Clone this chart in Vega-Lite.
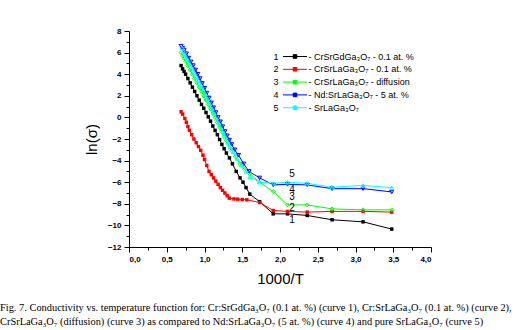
{
  "$schema": "https://vega.github.io/schema/vega-lite/v6.json",
  "width": 302,
  "height": 216,
  "autosize": {"type": "none"},
  "padding": {"left": 129, "top": 31, "right": 97, "bottom": 83},
  "background": "white",
  "config": {"view": {"stroke": null}, "font": "Liberation Sans"},
  "title": {
    "text": ["Fig. 7. Conductivity vs. temperature function for: Cr:SrGdGa₃O₇ (0.1 at. %) (curve 1), Cr:SrLaGa₃O₇ (0.1 at. %) (curve 2),", "CrSrLaGa₃O₇ (diffusion) (curve 3) as compared to Nd:SrLaGa₃O₇ (5 at. %) (curve 4) and pure SrLaGa₃O₇ (curve 5)"],
    "orient": "bottom", "anchor": "start", "frame": "group", "dx": -129, "offset": 17,
    "font": "Liberation Serif", "fontSize": 10.4, "fontWeight": "normal", "color": "black", "lineHeight": 14
  },
  "datasets": {
    "curves": [
      {"curve":"1","x":0.69,"y":4.8},{"curve":"1","x":0.71,"y":4.5},{"curve":"1","x":0.73,"y":4.25},{"curve":"1","x":0.75,"y":4.0},{"curve":"1","x":0.78,"y":3.6},{"curve":"1","x":0.81,"y":3.2},{"curve":"1","x":0.84,"y":2.8},{"curve":"1","x":0.87,"y":2.4},{"curve":"1","x":0.90,"y":2.0},{"curve":"1","x":0.93,"y":1.6},{"curve":"1","x":0.96,"y":1.2},{"curve":"1","x":0.99,"y":0.85},{"curve":"1","x":1.02,"y":0.45},{"curve":"1","x":1.05,"y":0.05},{"curve":"1","x":1.08,"y":-0.35},{"curve":"1","x":1.11,"y":-0.8},{"curve":"1","x":1.14,"y":-1.2},{"curve":"1","x":1.17,"y":-1.6},{"curve":"1","x":1.20,"y":-2.05},{"curve":"1","x":1.23,"y":-2.5},{"curve":"1","x":1.26,"y":-2.9},{"curve":"1","x":1.29,"y":-3.3},{"curve":"1","x":1.33,"y":-3.75},{"curve":"1","x":1.37,"y":-4.3},{"curve":"1","x":1.42,"y":-5.0},{"curve":"1","x":1.47,"y":-5.6},{"curve":"1","x":1.51,"y":-6.0},{"curve":"1","x":1.55,"y":-6.5},{"curve":"1","x":1.60,"y":-7.1},{"curve":"1","x":1.73,"y":-7.8},{"curve":"1","x":1.91,"y":-8.93},{"curve":"1","x":2.10,"y":-8.93},{"curve":"1","x":2.36,"y":-9.08},{"curve":"1","x":2.69,"y":-9.48},{"curve":"1","x":3.10,"y":-9.67},{"curve":"1","x":3.48,"y":-10.34},
      {"curve":"2","x":0.69,"y":0.52},{"curve":"2","x":0.71,"y":0.3},{"curve":"2","x":0.74,"y":-0.1},{"curve":"2","x":0.76,"y":-0.45},{"curve":"2","x":0.78,"y":-0.85},{"curve":"2","x":0.80,"y":-1.2},{"curve":"2","x":0.83,"y":-1.6},{"curve":"2","x":0.86,"y":-2.0},{"curve":"2","x":0.89,"y":-2.35},{"curve":"2","x":0.92,"y":-2.7},{"curve":"2","x":0.95,"y":-3.05},{"curve":"2","x":0.98,"y":-3.5},{"curve":"2","x":1.00,"y":-3.9},{"curve":"2","x":1.03,"y":-4.45},{"curve":"2","x":1.06,"y":-5.0},{"curve":"2","x":1.09,"y":-5.3},{"curve":"2","x":1.12,"y":-5.6},{"curve":"2","x":1.15,"y":-5.9},{"curve":"2","x":1.18,"y":-6.2},{"curve":"2","x":1.21,"y":-6.5},{"curve":"2","x":1.24,"y":-6.75},{"curve":"2","x":1.27,"y":-7.0},{"curve":"2","x":1.30,"y":-7.25},{"curve":"2","x":1.33,"y":-7.48},{"curve":"2","x":1.39,"y":-7.55},{"curve":"2","x":1.44,"y":-7.57},{"curve":"2","x":1.50,"y":-7.6},{"curve":"2","x":1.56,"y":-7.63},{"curve":"2","x":1.73,"y":-7.88},{"curve":"2","x":1.91,"y":-8.62},{"curve":"2","x":2.10,"y":-8.7},{"curve":"2","x":2.36,"y":-8.77},{"curve":"2","x":2.69,"y":-8.7},{"curve":"2","x":3.10,"y":-8.7},{"curve":"2","x":3.48,"y":-8.77},
      {"curve":"3","x":0.69,"y":6.0},{"curve":"3","x":0.71,"y":5.7},{"curve":"3","x":0.73,"y":5.45},{"curve":"3","x":0.75,"y":5.2},{"curve":"3","x":0.78,"y":4.8},{"curve":"3","x":0.81,"y":4.4},{"curve":"3","x":0.84,"y":4.0},{"curve":"3","x":0.87,"y":3.6},{"curve":"3","x":0.90,"y":3.2},{"curve":"3","x":0.93,"y":2.8},{"curve":"3","x":0.96,"y":2.4},{"curve":"3","x":0.99,"y":2.0},{"curve":"3","x":1.02,"y":1.6},{"curve":"3","x":1.05,"y":1.2},{"curve":"3","x":1.08,"y":0.8},{"curve":"3","x":1.11,"y":0.4},{"curve":"3","x":1.14,"y":0.0},{"curve":"3","x":1.17,"y":-0.45},{"curve":"3","x":1.20,"y":-0.9},{"curve":"3","x":1.23,"y":-1.3},{"curve":"3","x":1.26,"y":-1.75},{"curve":"3","x":1.29,"y":-2.15},{"curve":"3","x":1.32,"y":-2.55},{"curve":"3","x":1.36,"y":-3.05},{"curve":"3","x":1.41,"y":-3.65},{"curve":"3","x":1.47,"y":-4.3},{"curve":"3","x":1.53,"y":-4.8},{"curve":"3","x":1.60,"y":-5.2},{"curve":"3","x":1.73,"y":-6.0},{"curve":"3","x":1.91,"y":-6.87},{"curve":"3","x":2.10,"y":-8.1},{"curve":"3","x":2.36,"y":-8.1},{"curve":"3","x":2.69,"y":-8.47},{"curve":"3","x":3.10,"y":-8.56},{"curve":"3","x":3.48,"y":-8.56},
      {"curve":"4","x":0.69,"y":6.6},{"curve":"4","x":0.71,"y":6.4},{"curve":"4","x":0.73,"y":6.2},{"curve":"4","x":0.76,"y":5.9},{"curve":"4","x":0.79,"y":5.5},{"curve":"4","x":0.82,"y":5.15},{"curve":"4","x":0.85,"y":4.8},{"curve":"4","x":0.88,"y":4.4},{"curve":"4","x":0.91,"y":4.0},{"curve":"4","x":0.94,"y":3.6},{"curve":"4","x":0.97,"y":3.15},{"curve":"4","x":1.00,"y":2.7},{"curve":"4","x":1.03,"y":2.25},{"curve":"4","x":1.06,"y":1.8},{"curve":"4","x":1.09,"y":1.35},{"curve":"4","x":1.12,"y":0.9},{"curve":"4","x":1.15,"y":0.45},{"curve":"4","x":1.18,"y":0.0},{"curve":"4","x":1.21,"y":-0.4},{"curve":"4","x":1.24,"y":-0.85},{"curve":"4","x":1.27,"y":-1.3},{"curve":"4","x":1.30,"y":-1.7},{"curve":"4","x":1.33,"y":-2.1},{"curve":"4","x":1.36,"y":-2.5},{"curve":"4","x":1.40,"y":-3.0},{"curve":"4","x":1.45,"y":-3.5},{"curve":"4","x":1.52,"y":-4.3},{"curve":"4","x":1.59,"y":-5.0},{"curve":"4","x":1.73,"y":-5.6},{"curve":"4","x":1.91,"y":-6.25},{"curve":"4","x":2.10,"y":-6.2},{"curve":"4","x":2.36,"y":-6.25},{"curve":"4","x":2.69,"y":-6.6},{"curve":"4","x":3.10,"y":-6.6},{"curve":"4","x":3.48,"y":-6.9},
      {"curve":"5","x":0.70,"y":6.45},{"curve":"5","x":0.72,"y":6.1},{"curve":"5","x":0.74,"y":5.8},{"curve":"5","x":0.77,"y":5.4},{"curve":"5","x":0.80,"y":5.0},{"curve":"5","x":0.83,"y":4.6},{"curve":"5","x":0.86,"y":4.2},{"curve":"5","x":0.89,"y":3.8},{"curve":"5","x":0.92,"y":3.4},{"curve":"5","x":0.95,"y":3.0},{"curve":"5","x":0.98,"y":2.6},{"curve":"5","x":1.01,"y":2.15},{"curve":"5","x":1.04,"y":1.7},{"curve":"5","x":1.07,"y":1.25},{"curve":"5","x":1.10,"y":0.8},{"curve":"5","x":1.13,"y":0.35},{"curve":"5","x":1.16,"y":-0.1},{"curve":"5","x":1.19,"y":-0.55},{"curve":"5","x":1.22,"y":-1.0},{"curve":"5","x":1.25,"y":-1.4},{"curve":"5","x":1.28,"y":-1.85},{"curve":"5","x":1.31,"y":-2.3},{"curve":"5","x":1.34,"y":-2.7},{"curve":"5","x":1.38,"y":-3.2},{"curve":"5","x":1.43,"y":-3.8},{"curve":"5","x":1.49,"y":-4.4},{"curve":"5","x":1.55,"y":-5.0},{"curve":"5","x":1.60,"y":-5.5},{"curve":"5","x":1.73,"y":-6.0},{"curve":"5","x":1.91,"y":-6.1},{"curve":"5","x":2.10,"y":-6.0},{"curve":"5","x":2.36,"y":-6.1},{"curve":"5","x":2.69,"y":-6.46},{"curve":"5","x":3.10,"y":-6.3},{"curve":"5","x":3.48,"y":-6.5}
    ],
    "labels": [
      {"x":2.16,"y":-5.26,"t":"5"},{"x":2.16,"y":-6.71,"t":"4"},{"x":2.16,"y":-7.39,"t":"3"},{"x":2.16,"y":-8.4,"t":"2"},{"x":2.16,"y":-9.48,"t":"1"}
    ]
  },
  "resolve": {"axis": {"x": "independent", "y": "independent"}},
  "layer": [
    {
      "data": {"name": "curves"},
      "mark": {"type": "line", "strokeWidth": 1},
      "encoding": {
        "x": {"field": "x", "type": "quantitative", "scale": {"domain": [0, 4], "nice": false, "zero": false},
          "axis": {"title": "1000/T", "values": [0,0.5,1,1.5,2,2.5,3,3.5,4], "labelExpr": "replace(format(datum.value,'.1f'),'.',',')", "grid": false, "tickSize": 5, "domainColor": "black", "tickColor": "black", "labelColor": "black", "labelFont": "Liberation Sans", "labelFontSize": 8, "labelFontWeight": "bold", "labelPadding": 3, "titleFont": "Liberation Sans", "titleFontSize": 15, "titleFontWeight": "normal", "titleColor": "black", "titlePadding": 8}},
        "y": {"field": "y", "type": "quantitative", "scale": {"domain": [-12, 8], "nice": false, "zero": false},
          "axis": {"title": "ln(σ)", "values": [-12,-10,-8,-6,-4,-2,0,2,4,6,8], "format": "d", "grid": false, "tickSize": 5, "domainColor": "black", "tickColor": "black", "labelColor": "black", "labelFont": "Liberation Sans", "labelFontSize": 8, "labelFontWeight": "bold", "labelPadding": 3, "titleFont": "Liberation Sans", "titleFontSize": 15, "titleFontWeight": "normal", "titleColor": "black", "titlePadding": 8}},
        "color": {"field": "curve", "type": "nominal",
          "scale": {"range": ["#000000", "#ff0000", "#00ff00", "#0000ff", "#00ffff"]},
          "legend": {"orient": "none", "legendX": 139, "legendY": 21, "title": null, "symbolSize": 16, "symbolOffset": 22.5, "symbolStrokeWidth": 1,
            "symbolType": "M-6,0H6M-0.9,-0.9H0.9V0.9H-0.9Z",
            "labelOffset": -26, "padding": 0, "rowPadding": 2.8,
            "labelFont": "Liberation Sans", "labelFontSize": 9, "labelColor": "black",
            "labelExpr": "datum.label == '1' ? '1\u00a0\u00a0\u00a0\u00a0\u00a0\u00a0\u00a0\u00a0\u00a0\u00a0\u00a0\u00a0- CrSrGdGa₃O₇ - 0.1 at. %' : datum.label == '2' ? '2\u00a0\u00a0\u00a0\u00a0\u00a0\u00a0\u00a0\u00a0\u00a0\u00a0\u00a0\u00a0- CrSrLaGa₃O₇ - 0.1 at. %' : datum.label == '3' ? '3\u00a0\u00a0\u00a0\u00a0\u00a0\u00a0\u00a0\u00a0\u00a0\u00a0\u00a0\u00a0- CrSrLaGa₃O₇ - diffusion' : datum.label == '4' ? '4\u00a0\u00a0\u00a0\u00a0\u00a0\u00a0\u00a0\u00a0\u00a0\u00a0\u00a0\u00a0- Nd:SrLaGa₃O₇ - 5 at. %' : '5\u00a0\u00a0\u00a0\u00a0\u00a0\u00a0\u00a0\u00a0\u00a0\u00a0\u00a0\u00a0- SrLaGa₃O₇'"}}
      }
    },
    {
      "data": {"name": "curves"},
      "transform": [{"filter": "datum.curve == '1' || datum.curve == '2'"}],
      "mark": {"type": "point", "filled": true, "size": 12, "opacity": 1},
      "encoding": {
        "x": {"field": "x", "type": "quantitative", "axis": null},
        "y": {"field": "y", "type": "quantitative", "axis": null},
        "color": {"field": "curve", "type": "nominal", "legend": null},
        "shape": {"field": "curve", "type": "nominal", "scale": {"domain": ["1","2","3","4","5"], "range": ["square","square","diamond","triangle-down","triangle-up"]}, "legend": null}
      }
    },
    {
      "data": {"name": "curves"},
      "transform": [{"filter": "datum.curve != '1' && datum.curve != '2'"}],
      "mark": {"type": "point", "filled": false, "size": 16, "strokeWidth": 1, "opacity": 1},
      "encoding": {
        "x": {"field": "x", "type": "quantitative", "axis": null},
        "y": {"field": "y", "type": "quantitative", "axis": null},
        "color": {"field": "curve", "type": "nominal", "legend": null},
        "shape": {"field": "curve", "type": "nominal", "legend": null}
      }
    },
    {
      "data": {"name": "labels"},
      "mark": {"type": "text", "font": "Liberation Sans", "fontSize": 10, "color": "black", "baseline": "middle", "align": "center"},
      "encoding": {
        "x": {"field": "x", "type": "quantitative", "axis": {"orient": "bottom", "title": null, "labels": false, "domain": false, "grid": false, "values": [0.25,0.75,1.25,1.75,2.25,2.75,3.25,3.75], "tickSize": 3, "tickColor": "black"}},
        "y": {"field": "y", "type": "quantitative", "axis": {"orient": "left", "title": null, "labels": false, "domain": false, "grid": false, "values": [-11,-9,-7,-5,-3,-1,1,3,5,7], "tickSize": 3, "tickColor": "black"}},
        "text": {"field": "t"}
      }
    }
  ]
}
